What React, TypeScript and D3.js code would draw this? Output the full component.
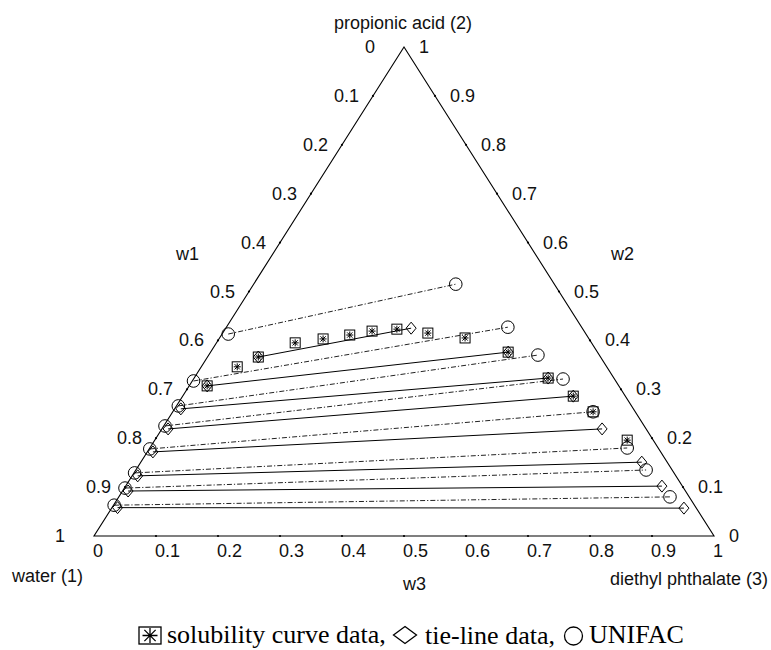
import React from 'react';
import * as d3 from 'd3';

// ternary axes: w1 = water, w2 = propionic acid, w3 = diethyl phthalate (mass fractions)
const tickValues = [0, 0.1, 0.2, 0.3, 0.4, 0.5, 0.6, 0.7, 0.8, 0.9, 1];
const tickLabels = ['0', '0.1', '0.2', '0.3', '0.4', '0.5', '0.6', '0.7', '0.8', '0.9', '1'];

// UNIFAC tie-lines (water-rich end / ester-rich end)
const unifacAqW2 = [0.413, 0.317, 0.266, 0.225, 0.178, 0.129, 0.098, 0.063];
const unifacAqW3 = [0.010, 0.002, 0.003, 0.002, 0.001, 0.001, 0.001, 0.001];
const unifacOrgW2 = [0.515, 0.427, 0.370, 0.321, 0.254, 0.180, 0.135, 0.080];
const unifacOrgW3 = [0.326, 0.454, 0.531, 0.596, 0.678, 0.770, 0.823, 0.889];

// experimental tie-lines
const tieAqW2 = [0.366, 0.307, 0.260, 0.219, 0.172, 0.123, 0.092, 0.058];
const tieAqW3 = [0.082, 0.029, 0.010, 0.010, 0.009, 0.009, 0.009, 0.009];
const tieOrgW2 = [0.425, 0.376, 0.323, 0.286, 0.219, 0.151, 0.102, 0.057];
const tieOrgW3 = [0.299, 0.480, 0.571, 0.630, 0.710, 0.808, 0.865, 0.923];

// solubility (binodal) curve data
const solW2 = [0.307, 0.346, 0.366, 0.395, 0.403, 0.411, 0.419, 0.423, 0.415, 0.405, 0.376, 0.323, 0.286, 0.254, 0.196];
const solW3 = [0.029, 0.058, 0.082, 0.127, 0.168, 0.207, 0.239, 0.277, 0.331, 0.396, 0.480, 0.571, 0.630, 0.678, 0.762];

const W = 771;
const H = 650;

const x = d3.scaleLinear().domain([0, 1]).range([94, 714]);
const y = d3.scaleLinear().domain([0, 1]).range([536, 47]);

const px = (w2: number, w3: number) => x(w3 + w2 / 2);
const py = (w2: number) => y(w2);

const line = d3.line<[number, number]>()
  .x(d => px(d[0], d[1]))
  .y(d => py(d[0]));

const diamond = (cx: number, cy: number, hw: number, hh: number) =>
  `M${cx},${cy - hh}L${cx + hw},${cy}L${cx},${cy + hh}L${cx - hw},${cy}Z`;

const asterisk = (cx: number, cy: number, r: number) =>
  `M${cx - r},${cy}h${2 * r}M${cx},${cy - r}v${2 * r}` +
  `M${cx - r * 0.75},${cy - r * 0.75}l${r * 1.5},${r * 1.5}M${cx + r * 0.75},${cy - r * 0.75}l${-r * 1.5},${r * 1.5}`;

const sans = 'Liberation Sans, Arial, Helvetica, sans-serif';
const serif = 'Liberation Serif, Times New Roman, serif';

function Chart() {
  const tri = line([[0, 0], [0, 1], [1, 0]]) + 'Z';

  return (
    <svg width={W} height={H} style={{ position: 'absolute', left: 0, top: 0, background: '#fff' }}>
      <path d={tri} fill="none" stroke="#000" strokeWidth={1.1} />

      {/* tick dots on the edges */}
      {tickValues.slice(1, -1).map((t, i) => (
        <g key={'td' + i} fill="#000">
          <circle cx={px(1 - t, 0)} cy={py(1 - t)} r={1.1} />
          <circle cx={px(t, 1 - t)} cy={py(t)} r={1.1} />
          <circle cx={px(0, t)} cy={py(0)} r={1.1} />
        </g>
      ))}

      {/* tick labels */}
      <g fontFamily={sans} fontSize={18} fill="#111">
        {tickValues.map((t, i) => (
          <text key={'l' + i} x={px(1 - t, 0) - 39} y={py(1 - t) + 6}>{tickLabels[i]}</text>
        ))}
        {tickValues.map((t, i) => (
          <text key={'r' + i} x={px(t, 1 - t) + 15} y={py(t) + 6}>{tickLabels[i]}</text>
        ))}
        {tickValues.map((t, i) => (
          <text key={'b' + i} x={px(0, t) - 1} y={py(0) + 21}>{tickLabels[i]}</text>
        ))}
        <text x={403} y={29} textAnchor="middle">propionic acid (2)</text>
        <text x={12} y={582}>water (1)</text>
        <text x={768} y={585} textAnchor="end">diethyl phthalate (3)</text>
        <text x={176} y={260}>w1</text>
        <text x={611} y={260}>w2</text>
        <text x={403} y={590}>w3</text>
      </g>

      {/* tie-lines */}
      <g fill="none" stroke="#000" strokeWidth={1}>
        {tieAqW2.map((_, i) => (
          <path key={'e' + i} d={line([[tieAqW2[i], tieAqW3[i]], [tieOrgW2[i], tieOrgW3[i]]]) || ''} />
        ))}
        {unifacAqW2.map((_, i) => (
          <path key={'u' + i} strokeDasharray="5,2,1.2,2" stroke="#222"
            d={line([[unifacAqW2[i], unifacAqW3[i]], [unifacOrgW2[i], unifacOrgW3[i]]]) || ''} />
        ))}
      </g>

      {/* markers */}
      <g fill="none" stroke="#000" strokeWidth={1}>
        {unifacAqW2.map((_, i) => (
          <g key={'uc' + i}>
            <circle cx={px(unifacAqW2[i], unifacAqW3[i])} cy={py(unifacAqW2[i])} r={6.3} />
            <circle cx={px(unifacOrgW2[i], unifacOrgW3[i])} cy={py(unifacOrgW2[i])} r={6.3} />
          </g>
        ))}
        {tieAqW2.map((_, i) => (
          <g key={'ed' + i}>
            <path d={diamond(px(tieAqW2[i], tieAqW3[i]), py(tieAqW2[i]), 5, 6)} />
            <path d={diamond(px(tieOrgW2[i], tieOrgW3[i]), py(tieOrgW2[i]), 5, 6)} />
          </g>
        ))}
        {solW2.map((_, i) => {
          const cx = px(solW2[i], solW3[i]);
          const cy = py(solW2[i]);
          return (
            <g key={'s' + i}>
              <rect x={cx - 5} y={cy - 5} width={10} height={10} />
              <path d={asterisk(cx, cy, 3.5)} />
            </g>
          );
        })}
      </g>

      {/* legend */}
      <g>
        <rect x={139} y={627} width={22} height={17} fill="none" stroke="#000" strokeWidth={1.3} />
        <path d={asterisk(150, 635.5, 7.5)} stroke="#000" strokeWidth={1.3} fill="none" />
        <text x={167} y={643} fontFamily={serif} fontSize={26} fill="#000">solubility curve data,</text>
        <path d={diamond(405, 635, 11.5, 8.5)} fill="none" stroke="#000" strokeWidth={1.3} />
        <text x={425} y={644} fontFamily={serif} fontSize={26} fill="#000">tie-line data,</text>
        <circle cx={573.5} cy={636} r={9} fill="none" stroke="#000" strokeWidth={1.3} />
        <text x={589} y={643} fontFamily={serif} fontSize={26} fill="#000">UNIFAC</text>
      </g>
    </svg>
  );
}

export default function App() {
  return <Chart />;
}
